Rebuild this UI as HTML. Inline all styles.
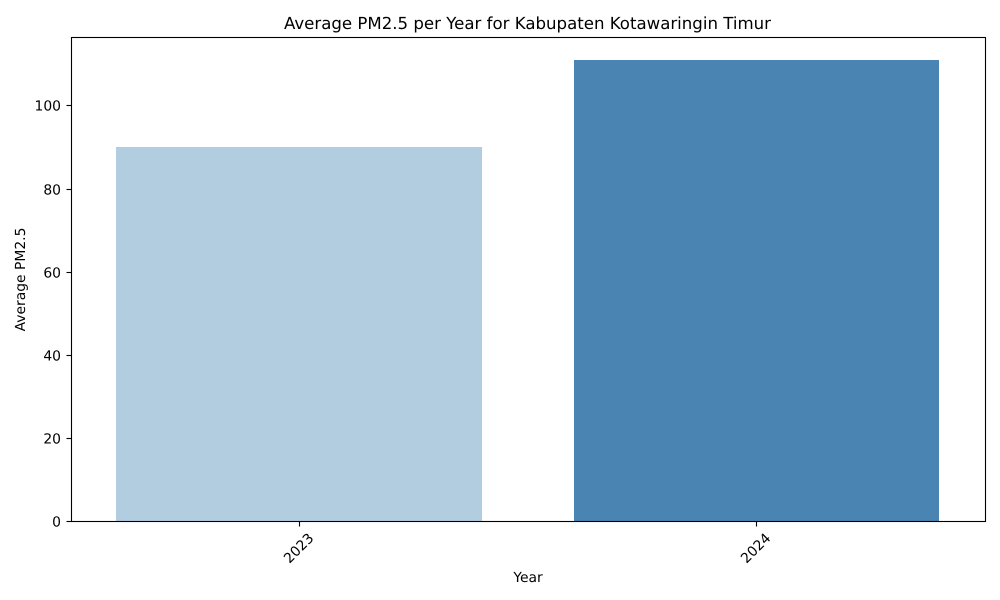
<!DOCTYPE html>
<html lang="en">
<head>
<meta charset="utf-8">
<title>Average PM2.5 per Year for Kabupaten Kotawaringin Timur</title>
<style>
html,body{margin:0;padding:0;background:#fff;}
svg{display:block;}
text{font-family:"DejaVu Sans","Liberation Sans",sans-serif;fill:#000;text-rendering:geometricPrecision;}
</style>
</head>
<body>
<svg id="chart" xmlns="http://www.w3.org/2000/svg" width="1000" height="600" viewBox="0 0 1000 600"></svg>
<script>
const categories = ['2023', '2024'];
const seriesValues = [90, 111];
const barColors = ['#b3cde0', '#4a84b2'];
const yTickLabels = [0, 20, 40, 60, 80, 100];
const chartTitle = 'Average PM2.5 per Year for Kabupaten Kotawaringin Timur';
const xAxisTitle = 'Year';
const yAxisTitle = 'Average PM2.5';

const axisLeft = 70.6, axisRight = 985, axisBase = 521;
const frameLeft = 71.5, frameRight = 985.5, frameTop = 37.5, frameBottom = 521.5;
const pxPerUnit = 4.15;
const svg = document.getElementById('chart');
const NS = 'http://www.w3.org/2000/svg';

function xScale(i) {
  const band = (axisRight - axisLeft) / categories.length;
  return axisLeft + band * (i + 0.5);
}
function bandWidth() {
  return (axisRight - axisLeft) / categories.length * 0.8;
}
function yScale(v) {
  return axisBase - v * pxPerUnit;
}
function make(tag, attrs, text) {
  const el = document.createElementNS(NS, tag);
  for (const k in attrs) el.setAttribute(k, attrs[k]);
  if (text !== undefined) el.textContent = text;
  svg.appendChild(el);
  return el;
}

seriesValues.forEach((v, i) => {
  const x0 = Math.round(xScale(i) - bandWidth() / 2);
  const x1 = Math.round(xScale(i) + bandWidth() / 2);
  const top = Math.floor(yScale(v));
  const bar = make('rect', {
    x: x0,
    y: top,
    width: x1 - x0,
    height: axisBase - top,
    fill: barColors[i],
    'shape-rendering': 'crispEdges'
  });
  
  
});

const frame = make('rect', {
  x: frameLeft, y: frameTop,
  width: frameRight - frameLeft, height: frameBottom - frameTop,
  fill: 'none', stroke: '#000', 'stroke-width': 1.1
});



yTickLabels.forEach(t => {
  const y = Math.floor(yScale(t)) + 0.5;
  const tick = make('line', {
    x1: frameLeft - 5, x2: frameLeft, y1: y, y2: y,
    stroke: '#000', 'stroke-width': 1.1
  });
  
  
  const label = make('text', {
    x: 61, y: y + 5, 'text-anchor': 'end', 'font-size': 13.89
  }, String(t));
  
  
});

categories.forEach((c, i) => {
  const x = Math.floor(xScale(i)) + 0.5;
  const tick = make('line', {
    x1: x, x2: x, y1: frameBottom, y2: frameBottom + 5,
    stroke: '#000', 'stroke-width': 1.1
  });
  
  
  const cx = x - 1;
  const label = make('text', {
    x: cx, y: 553, 'text-anchor': 'middle',
    'font-size': 13.89, transform: 'rotate(-45 ' + cx + ' 548)'
  }, c);
  
  
});

const titleEl = make('text', {
  x: 527.5, y: 29, 'text-anchor': 'middle', 'font-size': 16.6
}, chartTitle);



const xTitle = make('text', {
  x: 528, y: 582, 'text-anchor': 'middle', 'font-size': 13.89
}, xAxisTitle);



const yTitle = make('text', {
  x: 25, y: 279.5, 'text-anchor': 'middle', 'font-size': 13.89,
  transform: 'rotate(-90 25 279.5)'
}, yAxisTitle);


</script>
</body>
</html>
